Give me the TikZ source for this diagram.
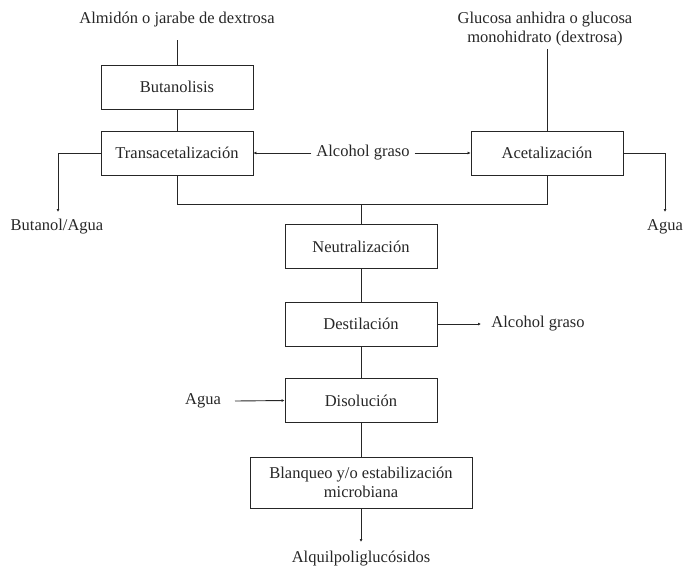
\documentclass[tikz,border=0pt]{standalone}
\usepackage{fontspec}
\setmainfont{LiberationSerif}[Extension=.ttf, UprightFont=*-Regular, BoldFont=*-Bold]
\usetikzlibrary{arrows.meta}
\begin{document}
\begin{tikzpicture}[x=1pt,y=-1pt,
  every node/.style={font=\rmfamily\fontsize{16.5}{19}\selectfont, text=black!85},
  proc/.style={draw=black!85, line width=0.9pt, fill=white, minimum width=152pt, minimum height=44pt, inner sep=0pt, align=center},
  lbl/.style={inner sep=1pt, align=center},
  link/.style={draw=black!85, line width=0.9pt},
  flow/.style={link, -{Latex[length=3pt,width=3pt]}}]
\useasboundingbox (0,0) rectangle (683,566);

% process steps
\node[proc] (but) at (177,87) {Butanolisis};
\node[proc] (trans) at (177,153) {Transacetalización};
\node[proc] (acet) at (547,153) {Acetalización};
\node[proc] (neut) at (361,246.5) {Neutralización};
\node[proc] (dest) at (361,324) {Destilación};
\node[proc] (diso) at (361,400.5) {Disolución};
\node[proc, minimum width=222pt, minimum height=51pt] (blan) at (361,482.5) {Blanqueo y/o estabilización\\microbiana};

% inputs and outputs
\node[lbl] (almidon) at (177,20) {Almidón o jarabe de dextrosa};
\node[lbl] (glucosa) at (545,29) {Glucosa anhidra o glucosa\\monohidrato (dextrosa)};
\node[lbl] (alcohol) at (363,153) {Alcohol graso};
\node[lbl] (butagua) at (57,227) {Butanol/Agua};
\node[lbl] (agua1) at (665,227) {Agua};
\node[lbl] (alcout) at (538,324) {Alcohol graso};
\node[lbl] (agua2) at (203,401) {Agua};
\node[lbl] (apg) at (361,559) {Alquilpoliglucósidos};

% feeds into the top steps
\draw[link] (almidon.south |- 0,40) -- (but);
\draw[link] (but) -- (trans);
\draw[link] (acet.north |- 0,49) -- (acet);
\draw[flow] (alcohol.west) ++(-4,0) -- (trans.east);
\draw[flow] (alcohol.east) ++(4,0) -- (acet.west);

% side outputs
\coordinate (b1) at (58,212);
\draw[flow] (trans.west) -| (b1);
\coordinate (a1) at (665,212);
\draw[flow] (acet.east) -| (a1);

% merge into neutralization
\coordinate (mL) at (177,204);
\coordinate (mR) at (547,204);
\coordinate (mC) at (361,204);
\draw[link] (trans.south) -- (mL) -- (mR) -- (acet.south);
\draw[link] (mC) -- (neut.north);

% main line
\draw[link] (neut) -- (dest);
\draw[link] (dest) -- (diso);
\draw[link] (diso) -- (blan);
\coordinate (end) at (361,542);
\draw[flow] (blan.south) -- (end);
\coordinate (dout) at (481,324);
\draw[flow] (dest.east) -- (dout);
\coordinate (din) at (235,401);
\draw[flow] (din) -- (diso.west);
\end{tikzpicture}
\end{document}
